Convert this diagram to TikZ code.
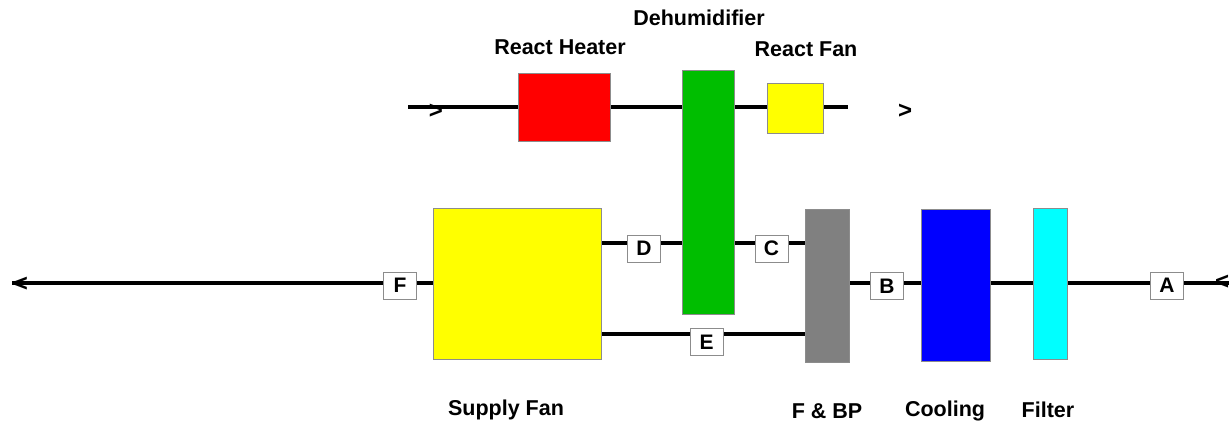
\documentclass[tikz,border=0pt]{standalone}
\usepackage{fontspec}
\setmainfont{Liberation Sans}
\usetikzlibrary{backgrounds}
\definecolor{cRed}{RGB}{255,0,0}
\definecolor{cGreen}{RGB}{0,190,0}
\definecolor{cYellow}{RGB}{255,255,0}
\definecolor{cGray}{RGB}{128,128,128}
\definecolor{cBlue}{RGB}{0,0,255}
\definecolor{cCyan}{RGB}{0,255,255}
\definecolor{cEdge}{RGB}{140,140,140}
\begin{document}
\begin{tikzpicture}[x=1pt,y=-1pt,
  blk/.style={draw=cEdge, line width=0.8pt, inner sep=0pt, minimum width=#1},
  title/.style={font=\fontsize{21.5}{24}\selectfont\bfseries, inner sep=0pt},
  tag/.style={draw=cEdge, fill=white, line width=1pt, inner sep=0pt, minimum width=33pt, minimum height=27pt, font=\fontsize{21}{24}\selectfont\bfseries},
  pipe/.style={line width=4.5pt},
  arr/.style={font=\fontsize{24}{26}\selectfont\bfseries, inner sep=0pt}]
\useasboundingbox (0,0) rectangle (1229,423);
% components
\node[blk=92pt, minimum height=68pt, fill=cRed] (heater) at (564,107) {};
\node[blk=52pt, minimum height=244pt, fill=cGreen] (dehum) at (708,192) {};
\node[blk=56pt, minimum height=50pt, fill=cYellow] (rfan) at (795,108) {};
\node[blk=168pt, minimum height=151pt, fill=cYellow] (sfan) at (517,283.5) {};
\node[blk=44pt, minimum height=153pt, fill=cGray] (fbp) at (827,285.5) {};
\node[blk=69pt, minimum height=152pt, fill=cBlue] (cool) at (955.5,285) {};
\node[blk=34pt, minimum height=151pt, fill=cCyan] (filt) at (1050,283.5) {};
% endpoints
\coordinate (mainL) at (12,283);
\coordinate (mainR) at (1229,283);
\coordinate (topL) at (408,107);
\coordinate (topR) at (848,107);
% tags
\node[tag] (F) at (400,285.5) {F};
\node[tag] (D) at (644,248.5) {D};
\node[tag] (C) at (771.5,248.5) {C};
\node[tag] (E) at (706.5,342) {E};
\node[tag] (B) at (887,286) {B};
\node[tag] (A) at (1167,285.5) {A};
% lines behind boxes
\begin{scope}[on background layer]
\draw[pipe] (mainL) -- (sfan.west |- mainL);
\draw[pipe] (fbp.east |- mainR) -- (mainR);
\draw[pipe] (topL) -- (topR);
\draw[pipe] (sfan.east |- 0,243) -- (fbp.west |- 0,243);
\draw[pipe] (sfan.east |- 0,334) -- (fbp.west |- 0,334);
\end{scope}
% arrow characters
\node[arr] (la) at (21,284) {<};
\node[arr] (ra) at (1222,282) {<};
\node[arr] (ta) at (436,111) {>};
\node[arr] (tb) at (905,111) {>};
% titles
\node[title] (theater) at (560,47) {React Heater};
\node[title] (tdehum) at (699,18) {Dehumidifier};
\node[title] (trfan) at (806,49) {React Fan};
\node[title] (tsfan) at (506,410) {Supply Fan};
\node[title] (tfbp) at (827,411) {F \& BP};
\node[title] (tcool) at (945,411) {Cooling};
\node[title] (tfilt) at (1048,410) {Filter};
\end{tikzpicture}
\end{document}
